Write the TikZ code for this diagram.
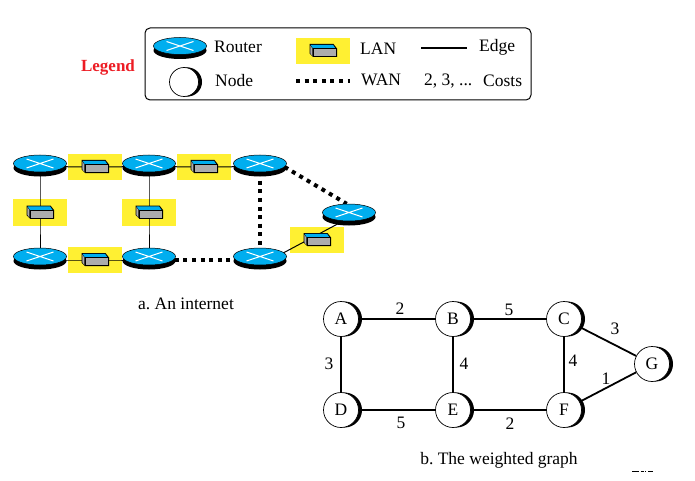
\documentclass[tikz,border=0pt]{standalone}
\usepackage{fontspec}
\setmainfont{Liberation Serif}
\frenchspacing
\usetikzlibrary{shapes.geometric,shadows}
\definecolor{rblue}{RGB}{0,174,239}
\definecolor{lanyellow}{RGB}{255,240,50}
\definecolor{lgray}{RGB}{172,172,172}
\definecolor{legred}{RGB}{237,28,36}
\pgfdeclarelayer{back}
\pgfdeclarelayer{mid}
\pgfsetlayers{back,mid,main}
\tikzset{
  router/.style={ellipse,inner sep=0pt,minimum width=53pt,minimum height=17pt,fill=rblue,draw=black,line width=.5pt,
    general shadow={fill=black,shadow xshift=0pt,shadow yshift=-4.5pt},
    path picture={\draw[white,line width=1pt]
      ([shift={(-13.5,-4.5)}]path picture bounding box.center) -- ([shift={(13.5,4.5)}]path picture bounding box.center)
      ([shift={(-13.5,4.5)}]path picture bounding box.center) -- ([shift={(13.5,-4.5)}]path picture bounding box.center);}},
  lanbg/.style={rectangle,fill=lanyellow,inner sep=0pt,minimum width=54pt,minimum height=26.5pt},
  lanfront/.style={rectangle,fill=lgray,draw=black,line width=.8pt,inner sep=0pt,minimum width=23pt,minimum height=8pt},
  gnode/.style={circle,fill=white,draw=black,line width=.7pt,inner sep=0pt,minimum size=35pt,font=\fontsize{17.5}{17.5}\selectfont,
    general shadow={fill=black,shadow xshift=3.5pt,shadow yshift=0pt}},
  lnode/.style={gnode,minimum size=29pt,general shadow={fill=black,shadow xshift=2.5pt,shadow yshift=0pt}},
  txt/.style={inner sep=0pt,font=\fontsize{17.5}{17.5}\selectfont},
  netline/.style={draw=black,line width=1pt},
  wanline/.style={draw=black,line width=4pt,dash pattern=on 4pt off 4.6pt},
  gedge/.style={draw=black,line width=1.8pt},
}
% \lanunit{name}{x,y}: yellow square, box with its front face named
\newcommand{\lanunit}[2]{%
  \begin{pgfonlayer}{back}\node[lanbg] (#1) at (#2) {};\end{pgfonlayer}
  \begin{scope}[shift={(#2)}]
    \fill[black] (-13.5,-7) -- (10.5,-7) -- (14,-2.5) -- (14,6) -- (-10,6) -- (-13.5,2.5) -- cycle;
    \fill[rblue] (-12.5,-6.2) -- (10,-6.2) -- (12.5,-2.5) -- (-10,-2.5) -- cycle;
    \fill[lgray] (-12.7,-5.5) -- (-10.7,-2.5) -- (-10.7,5) -- (-12.7,2.2) -- cycle;
    \node[lanfront] (#1box) at (1.5,1.5) {};
  \end{scope}}
\begin{document}
\begin{tikzpicture}[x=1pt,y=-1pt]
\useasboundingbox (0,0) rectangle (695,481);
\begin{pgfonlayer}{back}
\fill[white] (0,0) rectangle (695,481);
\end{pgfonlayer}

% legend
\node[rectangle,draw=black,line width=1pt,rounded corners=5pt,minimum width=386pt,minimum height=72pt,inner sep=0pt] (legendbox) at (338,64) {};
\node[txt,font=\fontsize{17}{17}\selectfont\bfseries,text=legred] (legendt) at (108,67) {Legend};
\node[router] (lr) at (180,46) {};
\node[txt,anchor=west] (lrt) at (214,47) {Router};
\node[lnode] (ln) at (184,82) {};
\node[txt,anchor=west] (lnt) at (215,81) {Node};
\lanunit{ll}{323,51}
\node[txt,anchor=west] (llt) at (360,49) {LAN};
\coordinate (wa) at (296,81);
\coordinate (wb) at (350,81);
\draw[wanline] (wa) -- (wb);
\node[txt,anchor=west] (lwt) at (361,80) {WAN};
\coordinate (ea) at (421,48);
\coordinate (eb) at (467,48);
\draw[gedge] (ea) -- (eb);
\node[txt,anchor=west] (let) at (479,47) {Edge};
\node[txt,anchor=west] (lct) at (424,81) {2, 3, ...};
\node[txt,anchor=west] (lcost) at (483,81) {Costs};

% internet
\node[router] (r1) at (40,163.5) {};
\node[router] (r2) at (149,163.5) {};
\node[router] (r3) at (260,163.5) {};
\node[router] (r4) at (40,256.5) {};
\node[router] (r5) at (149,256.5) {};
\node[router] (r6) at (260,256.5) {};
\node[router] (r7) at (349,212.5) {};
\lanunit{l1}{95,167}
\lanunit{l2}{204,167}
\lanunit{l3}{40,212.5}
\lanunit{l4}{149,212.5}
\lanunit{l5}{95,260}
\lanunit{l6}{317,240}
\begin{pgfonlayer}{mid}
  \draw[netline] ([yshift=-3pt]r1.center) -- (l1.center) -- ([yshift=-3pt]r2.center);
  \draw[netline] ([yshift=-3pt]r2.center) -- (l2.center) -- ([yshift=-3pt]r3.center);
  \draw[netline] (r1.center) -- (l3.center) -- (r4.center);
  \draw[netline] (r2.center) -- (l4.center) -- (r5.center);
  \draw[netline] ([yshift=-3.5pt]r4.center) -- (l5.center) -- ([yshift=-3.5pt]r5.center);
  \draw[netline] ([shift={(10,3.5)}]r6.center) -- ([shift={(0,-5)}]l6.center) -- ([shift={(-4,7.5)}]r7.center);
  \draw[wanline] ([yshift=-3.5pt]r5.center) -- ([yshift=-3.5pt]r6.center);
  \draw[wanline] (r3.center) -- (r6.center);
  \draw[wanline] (r3.-8) -- (r7.105);
\end{pgfonlayer}
\node[txt] (capa) at (186,304) {a. An internet};

% weighted graph
\node[gnode] (A) at (341,319) {A};
\node[gnode] (B) at (453,319) {B};
\node[gnode] (C) at (564,319) {C};
\node[gnode] (D) at (341,410) {D};
\node[gnode] (E) at (453,410) {E};
\node[gnode] (F) at (564,410) {F};
\node[gnode] (G) at (652,364) {G};
\begin{pgfonlayer}{mid}
  \draw[gedge] (A) -- (B);
  \draw[gedge] (B) -- (C);
  \draw[gedge] (D) -- (E);
  \draw[gedge] (E) -- (F);
  \draw[gedge] (A) -- (D);
  \draw[gedge] (B) -- (E);
  \draw[gedge] (C) -- (F);
  \draw[gedge] (C) -- (G);
  \draw[gedge] (F) -- (G);
\end{pgfonlayer}
\node[txt] (cab) at (400,309) {2};
\node[txt] (cbc) at (509,310) {5};
\node[txt] (cad) at (329,364) {3};
\node[txt] (cbe) at (464,364) {4};
\node[txt] (cde) at (401,423) {5};
\node[txt] (cef) at (510,424) {2};
\node[txt] (ccf) at (573,361) {4};
\node[txt] (ccg) at (615,329) {3};
\node[txt] (cfg) at (606,379) {1};
\node[txt] (capb) at (499,460) {b. The weighted graph};
\coordinate (ma) at (632,471);
\coordinate (mb) at (654,471);
\draw[black,line width=.7pt,dash pattern=on 7pt off 1.5pt on 3pt off 1.5pt on 1pt off 2pt on 5pt] (ma) -- (mb);
\end{tikzpicture}
\end{document}
